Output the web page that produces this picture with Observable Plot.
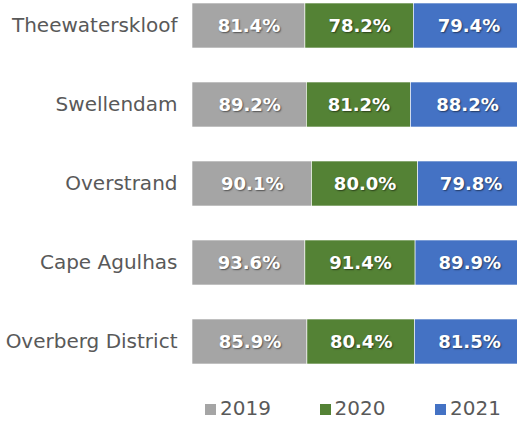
<!DOCTYPE html>
<html><head><meta charset="utf-8">
<script src="https://cdn.jsdelivr.net/npm/d3@7"></script>
<script src="https://cdn.jsdelivr.net/npm/@observablehq/plot@0.6"></script>
<style>
html,body{margin:0;padding:0;background:#fff;overflow:hidden;}
#wrap{position:relative;width:517px;height:421px;font-family:"DejaVu Sans",sans-serif;color:#595959;}
#chart{width:517px;overflow:hidden;}
#chart svg{overflow:hidden;display:block;}
g[aria-label="text"] text{ text-shadow: 1px 1.5px 1.5px rgba(0,0,0,0.5); }
.lg{position:absolute;top:397px;height:23px;line-height:23px;display:flex;align-items:center;font-size:20px;color:#595959;}
.lg span.sw{display:inline-block;width:11px;height:11px;margin-right:4px;margin-top:2px;}
</style>
</head><body>
<div id="wrap"><div id="chart"></div><div id="legend"></div></div>
<script>
const categories = ["Theewaterskloof", "Swellendam", "Overstrand", "Cape Agulhas", "Overberg District"];
const years = ["2019", "2020", "2021"];
const colors = ["#A5A5A5", "#548235", "#4472C4"];
const v2019 = [81.4, 89.2, 90.1, 93.6, 85.9];
const v2020 = [78.2, 81.2, 80.0, 91.4, 80.4];
const v2021 = [79.4, 88.2, 79.8, 89.9, 81.5];
const series = [v2019, v2020, v2021];

const data = [];
categories.forEach((c, i) => {
  years.forEach((y, j) => data.push({cat: c, year: y, value: series[j][i]}));
});

const stackOpts = {x: "value", y: "cat", z: "year", offset: "normalize"};

const chart = Plot.plot({
  width: 517,
  height: 370,
  marginLeft: 192,
  marginRight: -6.5,
  marginTop: 1,
  marginBottom: 4,
  style: {fontFamily: "DejaVu Sans, sans-serif", fontSize: "20px", color: "#595959", background: "white"},
  x: {axis: null, domain: [0, 1]},
  y: {domain: categories, paddingInner: 0.433, paddingOuter: 0, tickSize: 0, tickPadding: 15, label: null},
  color: {domain: years, range: colors},
  marks: [
    Plot.barX(data, Plot.stackX({...stackOpts, fill: "year", stroke: "white", strokeWidth: 0.6})),
    Plot.textX(data, Plot.stackX({...stackOpts, text: d => d.value.toFixed(1) + "%", fill: "white", fontSize: 18, fontWeight: "bold"}))
  ]
});
document.getElementById("chart").appendChild(chart);

const legendX = [205, 319.5, 435];
const lg = document.getElementById("legend");
years.forEach((y, j) => {
  const d = document.createElement("div");
  d.className = "lg";
  d.style.left = legendX[j] + "px";
  d.innerHTML = `<span class="sw" style="background:${colors[j]}"></span><span>${y}</span>`;
  lg.appendChild(d);
});
</script>
</body></html>
